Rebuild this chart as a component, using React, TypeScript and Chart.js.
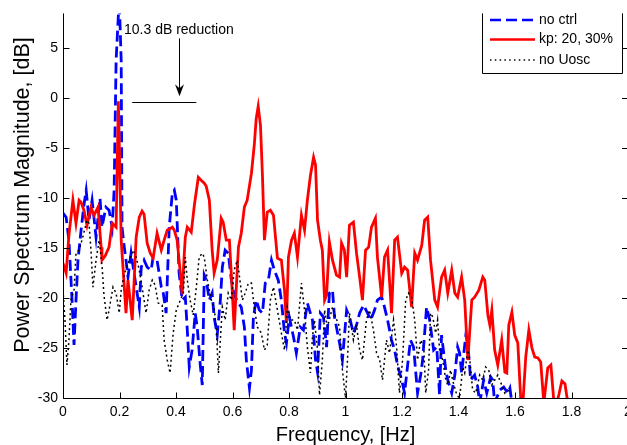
import { useEffect, useRef } from 'react';
import { Chart, registerables } from 'chart.js';

Chart.register(...registerables);

const FONT = '"Liberation Sans", Arial, Helvetica, sans-serif';

const xTickValues = [0, 0.2, 0.4, 0.6, 0.8, 1, 1.2, 1.4, 1.6, 1.8, 2];
const yTickValues = [-30, -25, -20, -15, -10, -5, 0, 5];

const seriesLabels = ['no ctrl', 'kp: 20, 30%', 'no Uosc'];
const xTitle = 'Frequency, [Hz]';
const yTitle = 'Power Spectrum Magnitude, [dB]';
const annotationText = '10.3 dB reduction';

// "no ctrl" (blue dashed)
const noCtrlFreq = [
  0.000, 0.011, 0.021, 0.032, 0.039, 0.046, 0.053, 0.064, 0.074, 0.082, 0.092, 0.103, 0.117, 0.131, 0.138, 0.152,
  0.163, 0.174, 0.181, 0.188, 0.199, 0.206, 0.209, 0.216, 0.223, 0.230, 0.241, 0.259, 0.270, 0.277, 0.287, 0.298,
  0.312, 0.319, 0.333, 0.348, 0.355, 0.365, 0.376, 0.387, 0.394, 0.401, 0.411, 0.422, 0.433, 0.440, 0.447, 0.457,
  0.468, 0.475, 0.486, 0.493, 0.500, 0.507, 0.518, 0.528, 0.535, 0.546, 0.557, 0.564, 0.574, 0.585, 0.596, 0.606,
  0.621, 0.631, 0.642, 0.649, 0.660, 0.667, 0.674, 0.684, 0.695, 0.706, 0.716, 0.727, 0.738, 0.748, 0.762, 0.773,
  0.784, 0.791, 0.801, 0.816, 0.826, 0.840, 0.851, 0.865, 0.883, 0.894, 0.901, 0.911, 0.922, 0.933, 0.943, 0.954,
  0.961, 0.979, 0.989, 1.004, 1.014, 1.028, 1.039, 1.050, 1.064, 1.078, 1.089, 1.103, 1.113, 1.128, 1.138, 1.149,
  1.163, 1.174, 1.184, 1.199, 1.209, 1.220, 1.230, 1.241, 1.255, 1.266, 1.273, 1.287, 1.298, 1.312, 1.323, 1.333,
  1.340, 1.355, 1.362, 1.376, 1.387, 1.397, 1.404, 1.411, 1.426, 1.433, 1.443, 1.457, 1.468, 1.475, 1.489, 1.500,
  1.514, 1.521, 1.528, 1.546, 1.560, 1.574, 1.582, 1.589,
];
const noCtrlDb = [
  -11.5, -11.9, -14.2, -20.2, -24.7, -20.2, -16.2, -13.2, -10.7, -9.2, -12.2, -10.2, -13.9, -10.0, -12.9, -10.9,
  -11.2, -12.9, -9.2, 3.8, 10.0, 3.8, -12.9, -14.7, -16.2, -17.9, -15.5, -18.9, -20.9, -16.9, -16.2, -16.9,
  -17.2, -15.9, -16.2, -18.9, -19.5, -21.5, -12.9, -9.5, -9.2, -10.2, -17.5, -20.2, -19.9, -23.2, -26.9, -25.2,
  -21.5, -22.9, -26.7, -28.7, -17.7, -18.2, -20.2, -19.5, -21.9, -23.7, -20.2, -16.9, -15.2, -15.5, -18.2, -19.7,
  -20.5, -20.9, -22.9, -26.2, -29.0, -27.2, -21.9, -20.2, -21.2, -21.5, -18.5, -18.2, -16.2, -17.2, -18.2, -20.2,
  -23.5, -24.5, -21.9, -23.9, -25.5, -22.9, -23.2, -20.5, -22.2, -26.2, -27.4, -21.5, -21.9, -24.9, -19.5, -19.2,
  -21.9, -24.5, -26.2, -21.2, -21.9, -23.5, -22.7, -21.5, -20.7, -21.5, -22.2, -21.2, -20.2, -19.9, -20.9, -22.2,
  -24.2, -25.2, -26.7, -28.2, -29.5, -26.7, -24.2, -24.9, -29.5, -27.7, -26.2, -20.9, -22.2, -25.2, -24.9, -29.7,
  -23.7, -27.2, -28.2, -29.5, -27.7, -24.9, -25.5, -27.5, -23.7, -24.5, -28.2, -27.7, -28.9, -30.5, -28.2, -29.5,
  -27.9, -28.2, -30.5, -29.2, -28.9, -29.5, -29.0, -30.5,
];

// "kp: 20, 30%" (red solid)
const kpFreq = [
  0.000, 0.011, 0.021, 0.035, 0.046, 0.057, 0.064, 0.074, 0.085, 0.099, 0.110, 0.124, 0.135, 0.138, 0.149, 0.163,
  0.174, 0.188, 0.196, 0.206, 0.213, 0.223, 0.230, 0.245, 0.252, 0.259, 0.270, 0.280, 0.287, 0.298, 0.309, 0.319,
  0.333, 0.348, 0.358, 0.369, 0.387, 0.394, 0.404, 0.415, 0.422, 0.429, 0.433, 0.440, 0.454, 0.465, 0.479, 0.489,
  0.500, 0.507, 0.518, 0.528, 0.535, 0.546, 0.560, 0.567, 0.578, 0.589, 0.599, 0.606, 0.613, 0.621, 0.631, 0.642,
  0.652, 0.667, 0.677, 0.684, 0.691, 0.699, 0.706, 0.713, 0.723, 0.734, 0.745, 0.759, 0.773, 0.784, 0.791, 0.798,
  0.809, 0.819, 0.830, 0.844, 0.855, 0.865, 0.876, 0.887, 0.894, 0.901, 0.911, 0.918, 0.926, 0.933, 0.943, 0.954,
  0.968, 0.979, 0.986, 0.996, 1.004, 1.014, 1.028, 1.039, 1.050, 1.060, 1.071, 1.082, 1.092, 1.106, 1.113, 1.128,
  1.138, 1.149, 1.163, 1.174, 1.184, 1.199, 1.209, 1.220, 1.234, 1.245, 1.255, 1.270, 1.280, 1.291, 1.301, 1.316,
  1.326, 1.340, 1.351, 1.362, 1.376, 1.387, 1.397, 1.411, 1.422, 1.433, 1.440, 1.447, 1.457, 1.472, 1.486, 1.493,
  1.504, 1.511, 1.518, 1.528, 1.539, 1.553, 1.564, 1.571, 1.578, 1.589, 1.599, 1.610, 1.621, 1.628, 1.638, 1.649,
  1.660, 1.670, 1.681, 1.691, 1.702, 1.716, 1.727, 1.738, 1.748, 1.755, 1.766, 1.777, 1.787, 1.798,
];
const kpDb = [
  -16.5, -17.5, -13.7, -10.2, -12.5, -10.2, -10.4, -11.2, -12.7, -10.9, -11.7, -10.9, -14.9, -16.2, -15.8, -14.9,
  -12.5, -12.9, -0.3, -14.2, -17.2, -21.5, -18.2, -22.2, -18.2, -13.9, -11.9, -11.3, -11.6, -14.5, -15.5, -16.0,
  -13.5, -15.2, -14.2, -13.2, -12.9, -13.2, -14.2, -17.4, -19.6, -15.7, -13.9, -12.9, -13.4, -10.7, -7.9, -8.2,
  -8.5, -8.8, -10.2, -15.2, -17.5, -16.2, -12.0, -12.4, -14.2, -14.2, -19.2, -23.2, -19.2, -14.9, -13.5, -10.9,
  -10.2, -7.5, -4.7, -2.0, -0.8, -2.7, -7.7, -14.2, -11.4, -11.2, -11.7, -16.0, -16.2, -19.2, -22.5, -15.9,
  -14.2, -13.5, -15.9, -11.7, -13.2, -10.2, -7.7, -5.9, -6.7, -12.2, -14.2, -15.2, -20.2, -19.7, -14.4, -16.2,
  -17.7, -17.9, -14.5, -15.2, -17.9, -12.7, -12.4, -15.5, -17.9, -20.2, -15.2, -14.9, -12.9, -12.0, -15.9, -19.9,
  -15.9, -15.2, -21.5, -14.2, -13.9, -17.5, -16.9, -17.2, -20.9, -15.5, -16.2, -14.7, -12.2, -11.9, -16.2, -20.2,
  -20.9, -17.9, -17.2, -19.5, -17.2, -19.5, -19.9, -17.9, -20.2, -26.2, -23.2, -20.2, -19.9, -19.2, -17.9, -18.2,
  -21.7, -22.7, -21.2, -25.2, -26.7, -24.2, -27.4, -27.5, -22.7, -21.4, -23.7, -24.5, -30.5, -30.5, -25.9, -23.2,
  -25.0, -25.9, -26.0, -26.4, -30.5, -27.0, -26.7, -30.5, -30.5, -29.7, -28.3, -28.6, -30.5, -30.2,
];

// "no Uosc" (black dotted)
const noUoscFreq = [
  0.000, 0.007, 0.014, 0.021, 0.028, 0.039, 0.046, 0.057, 0.067, 0.078, 0.085, 0.092, 0.099, 0.106, 0.117, 0.128,
  0.138, 0.145, 0.156, 0.163, 0.177, 0.188, 0.199, 0.206, 0.216, 0.234, 0.248, 0.259, 0.270, 0.280, 0.294, 0.305,
  0.316, 0.326, 0.337, 0.351, 0.358, 0.369, 0.379, 0.390, 0.401, 0.411, 0.426, 0.433, 0.440, 0.450, 0.461, 0.472,
  0.482, 0.493, 0.500, 0.511, 0.525, 0.535, 0.543, 0.550, 0.557, 0.564, 0.574, 0.585, 0.596, 0.606, 0.617, 0.624,
  0.635, 0.645, 0.656, 0.667, 0.677, 0.688, 0.702, 0.713, 0.723, 0.734, 0.745, 0.759, 0.773, 0.784, 0.794, 0.805,
  0.819, 0.830, 0.844, 0.855, 0.865, 0.876, 0.883, 0.890, 0.901, 0.908, 0.918, 0.926, 0.936, 0.954, 0.965, 0.979,
  0.989, 1.000, 1.007, 1.014, 1.028, 1.039, 1.050, 1.060, 1.074, 1.085, 1.099, 1.110, 1.121, 1.131, 1.145, 1.156,
  1.170, 1.181, 1.191, 1.202, 1.213, 1.223, 1.234, 1.245, 1.255, 1.266, 1.277, 1.284, 1.294, 1.301, 1.309, 1.319,
  1.326, 1.333, 1.344, 1.355, 1.362, 1.372, 1.379, 1.394, 1.404, 1.415, 1.422, 1.433, 1.440, 1.450, 1.461, 1.475,
  1.486, 1.496, 1.507, 1.518, 1.528, 1.539, 1.553, 1.564, 1.574, 1.585,
];
const noUoscDb = [
  -19.2, -22.2, -26.7, -24.2, -20.2, -19.2, -15.5, -15.2, -14.2, -13.0, -12.2, -12.5, -15.2, -18.9, -16.2, -14.2,
  -16.7, -19.7, -22.2, -21.2, -18.9, -19.5, -21.5, -19.2, -17.7, -16.2, -15.2, -15.9, -17.2, -18.9, -21.5, -19.2,
  -18.2, -18.7, -20.5, -20.7, -24.2, -26.2, -27.5, -23.5, -21.2, -20.5, -19.5, -15.9, -18.2, -20.2, -21.7, -18.9,
  -15.9, -15.5, -15.9, -18.2, -20.2, -20.9, -23.2, -27.5, -24.2, -20.9, -22.2, -19.5, -20.2, -17.2, -16.2, -17.7,
  -20.2, -19.5, -18.5, -18.5, -20.9, -22.9, -23.5, -25.2, -24.7, -20.2, -18.9, -21.2, -23.5, -25.2, -20.9, -22.2,
  -22.2, -23.2, -18.5, -21.2, -24.9, -27.5, -23.9, -22.2, -25.2, -29.7, -26.2, -21.2, -22.9, -20.9, -21.9, -22.9,
  -27.2, -30.0, -26.2, -21.5, -24.2, -22.7, -25.2, -26.2, -22.2, -21.2, -23.2, -25.5, -26.2, -28.2, -24.2, -25.5,
  -22.2, -24.9, -29.5, -26.2, -20.2, -19.5, -19.9, -22.2, -26.2, -24.2, -24.9, -29.5, -27.2, -21.5, -21.9, -23.5,
  -22.2, -25.2, -26.2, -28.2, -28.7, -27.2, -28.2, -29.7, -30.0, -26.9, -27.5, -25.2, -26.2, -29.2, -29.5, -27.7,
  -28.2, -26.9, -27.2, -28.7, -28.2, -27.7, -28.7, -29.5, -29.2, -29.5,
];

const toPoints = (xs: number[], ys: number[]) => xs.map((x, i) => ({ x, y: ys[i] }));
const fmt = (v: number) => String(Math.round(v * 10) / 10);

const matlabPlugin = {
  id: 'matlabDecor',
  afterDatasetsDraw(chart: any) {
    const ctx = chart.ctx as CanvasRenderingContext2D;
    const { left, right, top, bottom } = chart.chartArea;
    const xs = chart.scales.x;
    const ys = chart.scales.y;
    ctx.save();
    ctx.setLineDash([]);
    ctx.strokeStyle = '#000';
    ctx.lineWidth = 1;
    const L = Math.round(left) + 0.5;
    const B = Math.round(bottom) + 0.5;
    ctx.beginPath();
    ctx.moveTo(L, top);
    ctx.lineTo(L, B);
    ctx.lineTo(right, B);
    ctx.stroke();
    ctx.beginPath();
    xTickValues.forEach((v) => {
      const px = Math.round(xs.getPixelForValue(v)) + 0.5;
      ctx.moveTo(px, B);
      ctx.lineTo(px, B - 6);
    });
    yTickValues.forEach((v) => {
      const py = Math.round(ys.getPixelForValue(v)) + 0.5;
      ctx.moveTo(L, py);
      ctx.lineTo(L + 6, py);
      ctx.moveTo(right, py);
      ctx.lineTo(right - 6, py);
    });
    ctx.stroke();

    // axis titles
    ctx.fillStyle = '#000';
    ctx.textBaseline = 'alphabetic';
    ctx.textAlign = 'center';
    ctx.font = '20px ' + FONT;
    ctx.fillText(xTitle, (left + right) / 2, 441);
    ctx.save();
    ctx.translate(29, 195);
    ctx.rotate(-Math.PI / 2);
    ctx.font = '21.5px ' + FONT;
    ctx.fillText(yTitle, 0, 0);
    ctx.restore();

    // annotation
    ctx.fillStyle = '#000';
    ctx.font = '14px ' + FONT;
    ctx.textAlign = 'left';
    ctx.textBaseline = 'alphabetic';
    ctx.fillText(annotationText, xs.getPixelForValue(0.216), ys.getPixelForValue(6.4));
    const ax = Math.round(xs.getPixelForValue(0.411)) + 0.5;
    const ay0 = ys.getPixelForValue(6.0);
    const ay1 = ys.getPixelForValue(0.2);
    ctx.beginPath();
    ctx.moveTo(ax, ay0);
    ctx.lineTo(ax, ay1 - 6);
    ctx.stroke();
    ctx.beginPath();
    ctx.moveTo(ax, ay1);
    ctx.lineTo(ax - 4.5, ay1 - 12);
    ctx.lineTo(ax, ay1 - 8);
    ctx.lineTo(ax + 4.5, ay1 - 12);
    ctx.closePath();
    ctx.fill();
    const hy = Math.round(ys.getPixelForValue(-0.37)) + 0.5;
    ctx.beginPath();
    ctx.moveTo(xs.getPixelForValue(0.245), hy);
    ctx.lineTo(xs.getPixelForValue(0.472), hy);
    ctx.stroke();

    // legend
    const lx0 = 482.5, lx1 = 622.5, ly0 = top, ly1 = 73.5;
    ctx.fillStyle = '#fff';
    ctx.fillRect(lx0, ly0, lx1 - lx0, ly1 - ly0);
    ctx.strokeStyle = '#000';
    ctx.lineWidth = 1;
    ctx.beginPath();
    ctx.moveTo(lx0, ly0);
    ctx.lineTo(lx0, ly1);
    ctx.lineTo(lx1, ly1);
    ctx.lineTo(lx1, ly0);
    ctx.stroke();
    const styles = [
      { color: '#0000ff', width: 2.7, dash: [11, 5], y: 20 },
      { color: '#ff0000', width: 2.7, dash: [] as number[], y: 39.5 },
      { color: '#000000', width: 1.4, dash: [1.5, 3.3], y: 60 },
    ];
    styles.forEach((s, i) => {
      ctx.strokeStyle = s.color;
      ctx.lineWidth = s.width;
      ctx.setLineDash(s.dash);
      ctx.beginPath();
      ctx.moveTo(490, s.y);
      ctx.lineTo(535, s.y);
      ctx.stroke();
      ctx.setLineDash([]);
      ctx.fillStyle = '#000';
      ctx.font = '14px ' + FONT;
      ctx.textBaseline = 'middle';
      ctx.fillText(seriesLabels[i], 539, s.y);
    });
    ctx.restore();
  },
};

export default function App() {
  const ref = useRef<HTMLCanvasElement | null>(null);
  useEffect(() => {
    if (!ref.current) return;
    Chart.defaults.font.family = FONT;
    Chart.defaults.color = '#000';
    const chart = new Chart(ref.current, {
      type: 'line',
      data: {
        datasets: [
          {
            label: seriesLabels[0],
            data: toPoints(noCtrlFreq, noCtrlDb),
            borderColor: '#0000ff',
            borderWidth: 2.8,
            borderDash: [11, 5],
            pointRadius: 0,
            tension: 0,
            fill: false,
            order: 3,
            clip: 0,
          },
          {
            label: seriesLabels[1],
            data: toPoints(kpFreq, kpDb),
            borderColor: '#ff0000',
            borderWidth: 2.8,
            pointRadius: 0,
            tension: 0,
            fill: false,
            order: 2,
            clip: 0,
          },
          {
            label: seriesLabels[2],
            data: toPoints(noUoscFreq, noUoscDb),
            borderColor: '#000000',
            borderWidth: 1.5,
            borderDash: [2, 3],
            pointRadius: 0,
            tension: 0,
            fill: false,
            order: 1,
            clip: 0,
          },
        ],
      },
      options: {
        responsive: false,
        animation: false,
        devicePixelRatio: 1,
        layout: { padding: { left: 0, top: 13, right: 12, bottom: 0 } },
        plugins: { legend: { display: false }, tooltip: { enabled: false } },
        scales: {
          x: {
            type: 'linear',
            min: 0,
            max: 2,
            grid: { display: false, drawTicks: false },
            border: { display: false },
            afterBuildTicks: (s: any) => {
              s.ticks = xTickValues.map((v) => ({ value: v }));
            },
            afterFit: (s: any) => {
              s.height = 47;
            },
            ticks: {
              autoSkip: false,
              maxRotation: 0,
              padding: 6,
              font: { size: 14, family: FONT },
              color: '#000',
              callback: (v: any) => fmt(Number(v)),
            },
            title: { display: false },
          },
          y: {
            type: 'linear',
            min: -30,
            max: 8.5,
            grid: { display: false, drawTicks: false },
            border: { display: false },
            afterBuildTicks: (s: any) => {
              s.ticks = yTickValues.map((v) => ({ value: v }));
            },
            afterFit: (s: any) => {
              s.width = 63;
            },
            ticks: {
              autoSkip: false,
              padding: 5,
              font: { size: 14, family: FONT },
              color: '#000',
              callback: (v: any) => fmt(Number(v)),
            },
            title: { display: false },
          },
        },
      },
      plugins: [matlabPlugin],
    } as any);
    return () => chart.destroy();
  }, []);
  return (
    <div
      style={{
        position: 'fixed',
        left: 0,
        top: 0,
        width: 627,
        height: 445,
        overflow: 'hidden',
        background: '#fff',
      }}
    >
      <canvas ref={ref} width={640} height={445} style={{ width: 640, height: 445, display: 'block' }} />
    </div>
  );
}
